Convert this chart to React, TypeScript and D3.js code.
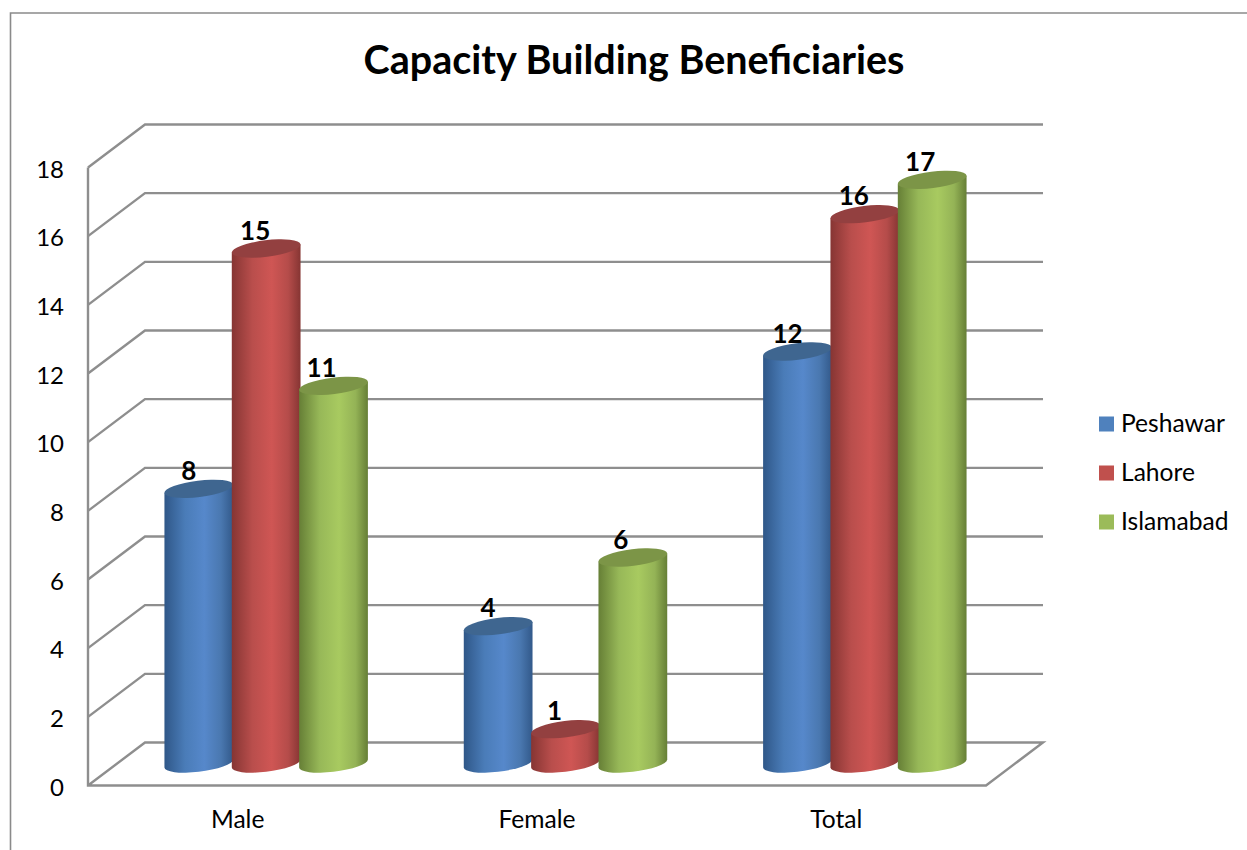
import React from "react";
import * as d3 from "d3";

const titleText = "Capacity Building Beneficiaries";
const categories = ["Male", "Female", "Total"];
const seriesNames = ["Peshawar", "Lahore", "Islamabad"];
const peshawar = [8, 4, 12];
const lahore = [15, 1, 16];
const islamabad = [11, 6, 17];
const seriesValues = [peshawar, lahore, islamabad];
const ticks = d3.range(0, 19, 2);
const legendColors = ["#4f81bd", "#c0504d", "#9bbb59"];
const gradients = [
  ["#2f5788", "#4a7cb8", "#5688cb", "#4a78b0", "#32598a"],
  ["#863533", "#b94e4c", "#cf5654", "#b54c4a", "#863533"],
  ["#667f36", "#97b858", "#a8ca60", "#94b356", "#667f36"],
];
const topColors = ["#3f6690", "#934040", "#7c9547"];
const labelShift = [-10, -11, -12];

const W = 1247, H = 850;
const FONT = "Lato, Carlito, Calibri, sans-serif";
const GRID = "#8e8e8e";
const dx = 57, dy = 43;
const y = d3.scaleLinear().domain([0, 18]).range([785.5, 167.5]);
const x0 = d3.scaleBand().domain(categories).range([88, 986]).paddingInner(0.325).paddingOuter(0.1625);
const x1 = d3.scaleBand().domain(seriesNames).range([0, x0.bandwidth()]);
const legendY = d3.scalePoint().domain(seriesNames).range([424, 522]);
const barShift = 28.5, midDepth = 22, rotDeg = -7;

export default function App() {
  const halfW = x1.bandwidth() / 2 + 0.7;
  const ry = 8.2;
  const c = Math.cos((rotDeg * Math.PI) / 180), s = Math.sin((rotDeg * Math.PI) / 180);
  // solve the long semi-axis so the ellipse's vertical tangents sit on the bar's edges
  const rx = Math.sqrt((halfW * halfW - ry * ry * s * s) / (c * c));
  const ey = ((rx * rx - ry * ry) * s * c) / halfW;
  return (
    <div style={{ position: "absolute", left: 0, top: 0 }}>
      <svg width={W} height={H} viewBox={`0 0 ${W} ${H}`} style={{ display: "block", fontFamily: FONT }}>
        <defs>
          <filter id="soft" x="-5%" y="-5%" width="110%" height="110%"><feGaussianBlur stdDeviation="0.45" /></filter>
          {gradients.map((g, i) => (
            <linearGradient key={i} id={`g${i}`} x1="0" x2="1" y1="0" y2="0">
              {g.map((col, j) => (
                <stop key={j} offset={[0, 0.3, 0.58, 0.82, 1][j]} stopColor={col} />
              ))}
            </linearGradient>
          ))}
        </defs>
        <rect width={W} height={H} fill="#fff" />
        <path d={`M10.5 ${H}V13H${W}`} fill="none" stroke="#8a8a8a" strokeWidth={1.6} />

        <g fill="none" stroke={GRID} strokeWidth={2.4} filter="url(#soft)">
          <path d={`M88 ${y(18)}V${y(0)}H986L${986 + dx} ${y(0) - dy}H${88 + dx}L88 ${y(0)}`} />
          {ticks.slice(1).map((t) => (
            <path key={t} d={`M88 ${y(t)}L${88 + dx} ${y(t) - dy}H${986 + dx}`} />
          ))}
        </g>

        <g fontSize={24} fill="#000" textAnchor="end">
          {ticks.map((t) => (
            <text key={t} x={64} y={y(t) + 10}>{t}</text>
          ))}
        </g>
        <g fontSize={24.6} fill="#000" textAnchor="middle">
          {categories.map((cat) => (
            <text key={cat} x={x0(cat)! + x0.bandwidth() / 2} y={828}>{cat}</text>
          ))}
        </g>

        {seriesNames.map((name, si) => (
          <g key={name}>
            {categories.map((cat, ci) => {
              const v = seriesValues[si][ci];
              const cx = x0(cat)! + barShift + x1(name)! + x1.bandwidth() / 2;
              const top = y(v) - midDepth;
              const bot = y(0) - midDepth;
              const body = `M${cx - halfW} ${top - ey}L${cx - halfW} ${bot - ey}A${rx} ${ry} ${rotDeg} 0 0 ${cx + halfW} ${bot + ey}L${cx + halfW} ${top + ey}Z`;
              return (
                <g key={cat}>
                  <path d={body} fill={`url(#g${si})`} />
                  <ellipse cx={cx} cy={top} rx={rx} ry={ry} fill={topColors[si]} transform={`rotate(${rotDeg} ${cx} ${top})`} />
                </g>
              );
            })}
          </g>
        ))}

        <g fontSize={26} fontWeight={700} fill="#000" textAnchor="middle">
          {seriesNames.map((name, si) =>
            categories.map((cat, ci) => {
              const v = seriesValues[si][ci];
              const cx = x0(cat)! + barShift + x1(name)! + x1.bandwidth() / 2;
              return (
                <text key={name + cat} x={cx + labelShift[si]} y={y(v) - midDepth - 9}>{v}</text>
              );
            })
          )}
        </g>

        <text x={634} y={74} textAnchor="middle" fontSize={39.5} fontWeight={700} fill="#000">{titleText}</text>

        <g>
          {seriesNames.map((name, i) => (
            <g key={name}>
              <rect x={1099} y={legendY(name)! - 7.5} width={15} height={15} fill={legendColors[i]} />
              <text x={1121} y={legendY(name)! + 8} fontSize={24.6} fill="#000">{name}</text>
            </g>
          ))}
        </g>
      </svg>
    </div>
  );
}
